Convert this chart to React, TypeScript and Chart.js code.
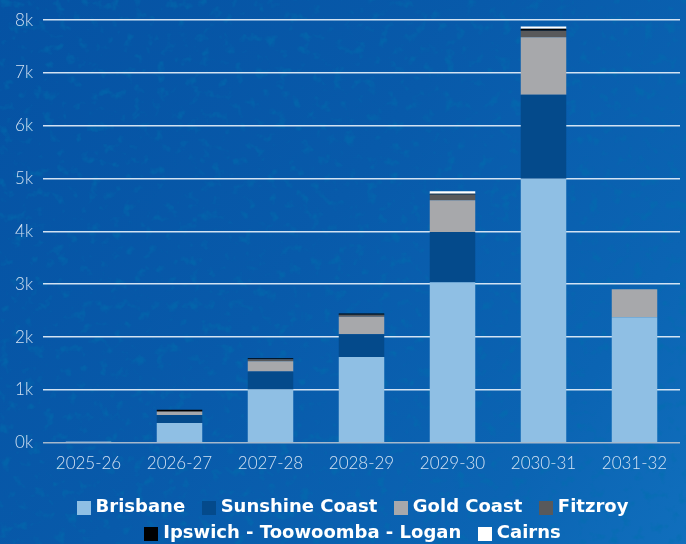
import React, { useEffect, useRef } from "react";
import { Chart, registerables } from "chart.js";

Chart.register(...registerables);

// Financial years on the category axis
const years = ["2025-26", "2026-27", "2027-28", "2028-29", "2029-30", "2030-31", "2031-32"];

// Stacked volumes per region
const brisbane = [0, 375, 1005, 1625, 3040, 5000, 2375];
const sunshineCoast = [0, 150, 345, 430, 950, 1590, 0];
const goldCoast = [0, 55, 190, 330, 600, 1085, 530];
const fitzroy = [0, 20, 38, 40, 110, 125, 0];
const ipswichToowoombaLogan = [0, 25, 19, 20, 15, 38, 0];
const cairns = [20, 0, 0, 0, 45, 43, 0];

// Value axis ticks (thousands)
const yTicks = [0, 1000, 2000, 3000, 4000, 5000, 6000, 7000, 8000];

const W = 686;
const H = 560;

// Fine dark speckle over the blue backdrop
const noiseBg =
  "url(\"data:image/svg+xml;utf8,<svg xmlns='http://www.w3.org/2000/svg' width='686' height='544'>" +
  "<filter id='n'><feTurbulence type='fractalNoise' baseFrequency='0.09' numOctaves='3' seed='5'/>" +
  "<feColorMatrix values='0 0 0 0 0.0  0 0 0 0 0.16  0 0 0 0 0.42  4 0 0 0 -2.3'/></filter>" +
  "<rect width='100%' height='100%' filter='url(%23n)' opacity='0.5'/></svg>\")";

// Square legend swatch drawn as a point-style image
function swatch(color: string, size = 14): HTMLCanvasElement {
  const c = document.createElement("canvas");
  c.width = size;
  c.height = size;
  const g = c.getContext("2d");
  if (g) {
    g.fillStyle = color;
    g.fillRect(0, 0, size, size);
  }
  return c;
}

// Nudges the legend block so its rows sit under the plot centre
const legendOffset = {
  id: "legendOffset",
  afterLayout(chart: any) {
    if (chart.legend) chart.legend.left += 41.5;
  },
};

export default function App() {
  const canvasRef = useRef<HTMLCanvasElement | null>(null);

  useEffect(() => {
    const canvas = canvasRef.current;
    if (!canvas) return;

    const tickFont = { family: "Lato, 'Open Sans', sans-serif", size: 17, weight: "300" as const };

    const chart = new Chart(canvas, {
      type: "bar",
      data: {
        labels: years,
        datasets: [
          { label: "Brisbane", data: brisbane, backgroundColor: "#8fbfe4" },
          { label: "Sunshine Coast", data: sunshineCoast, backgroundColor: "#044a8b" },
          { label: "Gold Coast", data: goldCoast, backgroundColor: "#a7a8ab" },
          { label: "Fitzroy", data: fitzroy, backgroundColor: "#58595b" },
          { label: "Ipswich - Toowoomba - Logan", data: ipswichToowoombaLogan, backgroundColor: "#000000" },
          { label: "Cairns", data: cairns, backgroundColor: "#ffffff" },
        ],
      },
      plugins: [legendOffset],
      options: {
        responsive: false,
        animation: false,
        devicePixelRatio: 1,
        layout: { padding: { top: 19, left: 0, right: 6, bottom: 7.3 } },
        datasets: {
          bar: { categoryPercentage: 1, barPercentage: 0.5, borderWidth: 0 },
        },
        plugins: {
          tooltip: { enabled: false },
          legend: {
            position: "bottom",
            align: "center",
            labels: {
              color: "#ffffff",
              usePointStyle: true,
              pointStyleWidth: 6,
              boxHeight: 14,
              padding: 8,
              font: { family: "'DejaVu Sans', sans-serif", size: 18, weight: "bold" },
              generateLabels: (c: Chart) =>
                Chart.defaults.plugins.legend.labels.generateLabels(c).map((item) => ({
                  ...item,
                  text: item.text + "  ",
                  pointStyle: swatch(String(item.fillStyle)) as any,
                  lineWidth: 0,
                  strokeStyle: "transparent",
                })),
            },
          },
        },
        scales: {
          x: {
            stacked: true,
            grid: { display: false, drawTicks: false },
            border: { display: false },
            ticks: { color: "rgba(232,240,249,0.9)", font: tickFont, padding: 11, maxRotation: 0 },
            afterFit: (scale: any) => {
              scale.height = 48;
            },
          },
          y: {
            stacked: true,
            min: yTicks[0],
            max: yTicks[yTicks.length - 1],
            grid: {
              drawTicks: false,
              lineWidth: 1.6,
              color: (ctx: any) =>
                ctx.tick && ctx.tick.value === 0 ? "rgba(175,190,205,0.95)" : "rgba(228,238,248,0.92)",
            },
            border: { display: false },
            afterBuildTicks: (scale: any) => {
              scale.ticks = yTicks.map((v) => ({ value: v }));
            },
            afterFit: (scale: any) => {
              scale.width = 43;
            },
            ticks: {
              color: "rgba(232,240,249,0.9)",
              font: tickFont,
              padding: 10,
              callback: (v: any) => `${Number(v) / 1000}k`,
            },
          },
        },
      },
    });

    return () => chart.destroy();
  }, []);

  return (
    <div
      style={{
        position: "fixed",
        left: 0,
        top: 0,
        width: 686,
        height: 544,
        overflow: "hidden",
        backgroundColor: "#0859a9",
        backgroundImage: `${noiseBg}, linear-gradient(125deg, #0552a3 0%, #085aaa 45%, #0b64b3 80%, #106fbd 100%)`,
      }}
    >
      <canvas ref={canvasRef} width={W} height={H} style={{ display: "block", width: W, height: H }} />
    </div>
  );
}
